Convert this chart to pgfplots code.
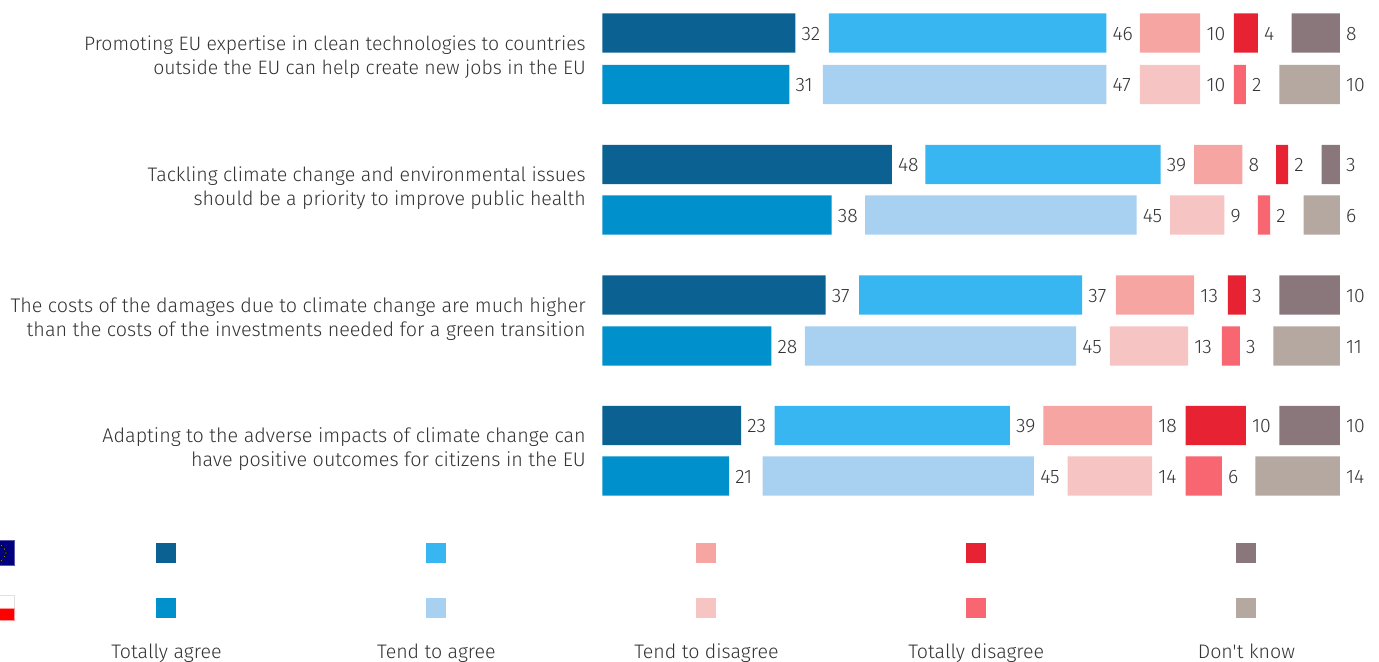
\documentclass[border=0pt]{standalone}
\usepackage{pgfplots}
\pgfplotsset{compat=1.18}
\usepackage{pgfplotstable}
\usepackage{fontspec}
\setmainfont[Ligatures=TeXOff]{Fira Sans Light}
\definecolor{c1}{HTML}{0B6192}
\definecolor{c2}{HTML}{37B6F1}
\definecolor{c3}{HTML}{F6A5A3}
\definecolor{c4}{HTML}{E72233}
\definecolor{c5}{HTML}{89777B}
\definecolor{d1}{HTML}{0091CD}
\definecolor{d2}{HTML}{A8D0F0}
\definecolor{d3}{HTML}{F6C4C3}
\definecolor{d4}{HTML}{F86671}
\definecolor{d5}{HTML}{B5A8A1}
\definecolor{txt}{HTML}{333333}
\pgfplotsset{
  page/.style={at={(0,0)},anchor=south west,scale only axis,width=1034.25pt,height=495.75pt,
    xmin=-99.9,xmax=128.79,ymin=0,ymax=661,y dir=reverse,hide axis,clip=false},
  seg/.style={xbar stacked, bar width=29.5pt, draw=none, fill=#1},
  gap/.style={xbar stacked, bar width=29.5pt, draw=none, fill=none,
    point meta=explicit symbolic, nodes near coords,
    every node near coord/.append style={anchor=west,text=txt,font=\fontsize{14.6pt}{16pt}\selectfont,inner sep=0pt,xshift=-8.1pt,yshift=-0.6pt}},
  swatch/.style={only marks,mark=square*,mark size=7.1pt,mark options={draw=#1,fill=#1,line width=0.1pt}},
}
\begin{document}
\begin{tikzpicture}[x=1pt,y=1pt]
\path[use as bounding box,clip] (0,0) rectangle (1034.25,495.75);
% EU rows
\begin{axis}[page,xbar stacked,stack plots=x]
\addplot[seg=c1] coordinates {(32,33) (48,164.5) (37,295) (23,425.5)};
\addplot[gap] coordinates {(5.57,33)[32] (5.57,164.5)[48] (5.57,295)[37] (5.57,425.5)[23]};
\addplot[seg=c2] coordinates {(46,33) (39,164.5) (37,295) (39,425.5)};
\addplot[gap] coordinates {(5.57,33)[46] (5.57,164.5)[39] (5.57,295)[37] (5.57,425.5)[39]};
\addplot[seg=c3] coordinates {(10,33) (8,164.5) (13,295) (18,425.5)};
\addplot[gap] coordinates {(5.57,33)[10] (5.57,164.5)[8] (5.57,295)[13] (5.57,425.5)[18]};
\addplot[seg=c4] coordinates {(4,33) (2,164.5) (3,295) (10,425.5)};
\addplot[gap] coordinates {(5.57,33)[4] (5.57,164.5)[2] (5.57,295)[3] (5.57,425.5)[10]};
\addplot[seg=c5] coordinates {(8,33) (3,164.5) (10,295) (10,425.5)};
\addplot[gap] coordinates {(5.57,33)[8] (5.57,164.5)[3] (5.57,295)[10] (5.57,425.5)[10]};
\end{axis}
% PL rows
\begin{axis}[page,xbar stacked,stack plots=x]
\addplot[seg=d1] coordinates {(31,84.5) (38,215) (28,346) (21,476)};
\addplot[gap] coordinates {(5.57,84.5)[31] (5.57,215)[38] (5.57,346)[28] (5.57,476)[21]};
\addplot[seg=d2] coordinates {(47,84.5) (45,215) (45,346) (45,476)};
\addplot[gap] coordinates {(5.57,84.5)[47] (5.57,215)[45] (5.57,346)[45] (5.57,476)[45]};
\addplot[seg=d3] coordinates {(10,84.5) (9,215) (13,346) (14,476)};
\addplot[gap] coordinates {(5.57,84.5)[10] (5.57,215)[9] (5.57,346)[13] (5.57,476)[14]};
\addplot[seg=d4] coordinates {(2,84.5) (2,215) (3,346) (6,476)};
\addplot[gap] coordinates {(5.57,84.5)[2] (5.57,215)[2] (5.57,346)[3] (5.57,476)[6]};
\addplot[seg=d5] coordinates {(10,84.5) (6,215) (11,346) (14,476)};
\addplot[gap] coordinates {(5.57,84.5)[10] (5.57,215)[6] (5.57,346)[11] (5.57,476)[14]};
\end{axis}
% legend, flags, question labels
\begin{axis}[page]
\addplot[swatch=c1] coordinates {(-72.47,553)};
\addplot[swatch=c2] coordinates {(-27.69,553)};
\addplot[swatch=c3] coordinates {(17.08,553)};
\addplot[swatch=c4] coordinates {(61.86,553)};
\addplot[swatch=c5] coordinates {(106.63,553)};
\addplot[swatch=d1] coordinates {(-72.47,608)};
\addplot[swatch=d2] coordinates {(-27.69,608)};
\addplot[swatch=d3] coordinates {(17.08,608)};
\addplot[swatch=d4] coordinates {(61.86,608)};
\addplot[swatch=d5] coordinates {(106.63,608)};
\fill[fill=blue!50!black,draw=blue!30!gray,line width=0.5pt] (axis cs:-100.05,540.5) rectangle (axis cs:-97.5,565.5);
\addplot[only marks,mark=*,mark size=0.9pt,mark options={draw=none,fill=yellow!85!black}] coordinates {(-99.62,545.7) (-99.12,549) (-98.9,553) (-99.12,556.7) (-99.62,560.3)};
\fill[fill=white,draw=black!12,line width=0.5pt] (axis cs:-100.05,595.5) rectangle (axis cs:-97.5,608);
\fill[fill=red,draw=red!40,line width=0.5pt] (axis cs:-100.05,608) rectangle (axis cs:-97.5,620.5);
\tikzset{q/.style={anchor=east,align=right,inner sep=0pt,text=txt,font=\fontsize{#1}{18pt}\selectfont}}
\node[q=14.58pt] at (axis cs:-2.72,57) {Promoting EU expertise in clean technologies to countries\\outside the EU can help create new jobs in the EU};
\node[q=14.68pt] at (axis cs:-2.72,188.5) {Tackling climate change and environmental issues\\should be a priority to improve public health};
\node[q=14.8pt] at (axis cs:-2.72,319) {The costs of the damages due to climate change are much higher\\than the costs of the investments needed for a green transition};
\node[q=14.8pt] at (axis cs:-2.72,449) {Adapting to the adverse impacts of climate change can\\have positive outcomes for citizens in the EU};
\tikzset{l/.style={anchor=base,inner sep=0pt,text=txt,font=\fontsize{14.7pt}{18pt}\selectfont}}
\node[l] at (axis cs:-72.3,658) {Totally agree};
\node[l] at (axis cs:-27.53,658) {Tend to agree};
\node[l] at (axis cs:17.25,658) {Tend to disagree};
\node[l] at (axis cs:62,658) {Totally disagree};
\node[l] at (axis cs:106.8,658) {Don't know};
\end{axis}
\end{tikzpicture}
\end{document}
